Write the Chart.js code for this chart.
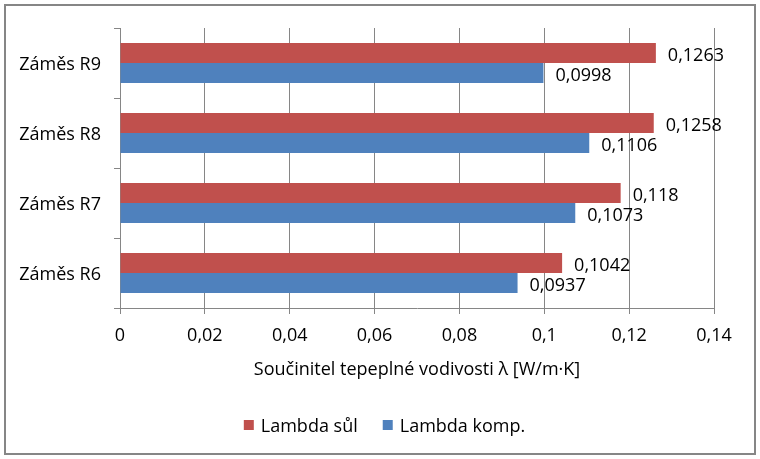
<!DOCTYPE html>
<html lang="cs">
<head>
<meta charset="UTF-8">
<title>Součinitel tepelné vodivosti</title>
<script src="https://cdn.jsdelivr.net/npm/chart.js"></script>
<style>
    html, body { margin: 0; padding: 0; background: #fff; }
    #graf { display: block; }
</style>
</head>
<body>
<canvas id="graf" width="760" height="459"></canvas>
<script>
    // data
    const zamesy = ['Záměs R9', 'Záměs R8', 'Záměs R7', 'Záměs R6'];
    const lambdaSul = [0.1263, 0.1258, 0.118, 0.1042];
    const lambdaKomp = [0.0998, 0.1106, 0.1073, 0.0937];
    const osaX = [0, 0.02, 0.04, 0.06, 0.08, 0.1, 0.12, 0.14];

    const pismo = '"Open Sans", Lato, sans-serif';
    const velikost = 18;
    const seda = '#868686';

    function cislo(v) {
        return String(parseFloat(v.toFixed(4))).replace('.', ',');
    }

    // popisky hodnot vedle sloupců
    const popiskyHodnot = {
        id: 'popiskyHodnot',
        afterDatasetsDraw(chart) {
            const ctx = chart.ctx;
            ctx.save();
            ctx.font = velikost + 'px ' + pismo;
            ctx.fillStyle = '#000';
            ctx.textBaseline = 'middle';
            ctx.textAlign = 'left';
            chart.data.datasets.forEach((ds, i) => {
                chart.getDatasetMeta(i).data.forEach((el, j) => {
                    ctx.fillText(cislo(ds.data[j]), el.x + 12, el.y + 3);
                });
            });
            ctx.restore();
        }
    };

    // rámeček a legenda dole
    const ramecek = {
        id: 'ramecek',
        afterDraw(chart) {
            const ctx = chart.ctx;
            ctx.save();
            ctx.strokeStyle = seda;
            ctx.lineWidth = 2;
            ctx.strokeRect(5, 5, chart.width - 10, chart.height - 10);

            ctx.font = velikost + 'px ' + pismo;
            ctx.textBaseline = 'middle';
            const polozky = chart.data.datasets.map(ds => ({ text: ds.label, barva: ds.backgroundColor }));
            const mezera = 24;
            let sirka = 0;
            polozky.forEach(p => { p.w = 18 + ctx.measureText(p.text).width; sirka += p.w; });
            sirka += mezera * (polozky.length - 1);
            let x = chart.width / 2 + 5 - sirka / 2;
            const y = 425;
            polozky.forEach(p => {
                ctx.fillStyle = p.barva;
                ctx.fillRect(x, y - 5, 10, 10);
                ctx.fillStyle = '#000';
                ctx.fillText(p.text, x + 17, y + 2);
                x += p.w + mezera;
            });
            ctx.restore();
        }
    };

    new Chart(document.getElementById('graf'), {
        type: 'bar',
        data: {
            labels: zamesy,
            datasets: [{
                label: 'Lambda sůl',
                data: lambdaSul,
                backgroundColor: '#C0504D',
                categoryPercentage: 0.572,
                barPercentage: 1
            }, {
                label: 'Lambda komp.',
                data: lambdaKomp,
                backgroundColor: '#4F81BD',
                categoryPercentage: 0.572,
                barPercentage: 1
            }]
        },
        options: {
            indexAxis: 'y',
            responsive: false,
            animation: false,
            layout: { padding: { left: 0, right: 46, top: 28, bottom: 78 } },
            plugins: {
                legend: { display: false },
                tooltip: { enabled: false }
            },
            scales: {
                x: {
                    min: 0,
                    max: 0.14,
                    afterBuildTicks: scale => { scale.ticks = osaX.map(v => ({ value: v })); },
                    afterFit: scale => { scale.height = 73; },
                    grid: { color: seda, tickLength: 6, lineWidth: 1 },
                    border: { color: seda },
                    ticks: {
                        color: '#000',
                        padding: 11,
                        font: { family: pismo, size: velikost },
                        callback: v => cislo(v)
                    },
                    title: {
                        display: true,
                        text: 'Součinitel tepeplné vodivosti λ [W/m·K]',
                        color: '#000',
                        font: { family: pismo, size: velikost },
                        padding: 0
                    }
                },
                y: {
                    afterFit: scale => { scale.width = 120; },
                    grid: { drawOnChartArea: false, color: seda, tickLength: 6, offset: true },
                    border: { color: seda },
                    ticks: {
                        color: '#000',
                        padding: 13,
                        labelOffset: 2,
                        font: { family: pismo, size: velikost }
                    }
                }
            }
        },
        plugins: [popiskyHodnot, ramecek]
    });
</script>
</body>
</html>
